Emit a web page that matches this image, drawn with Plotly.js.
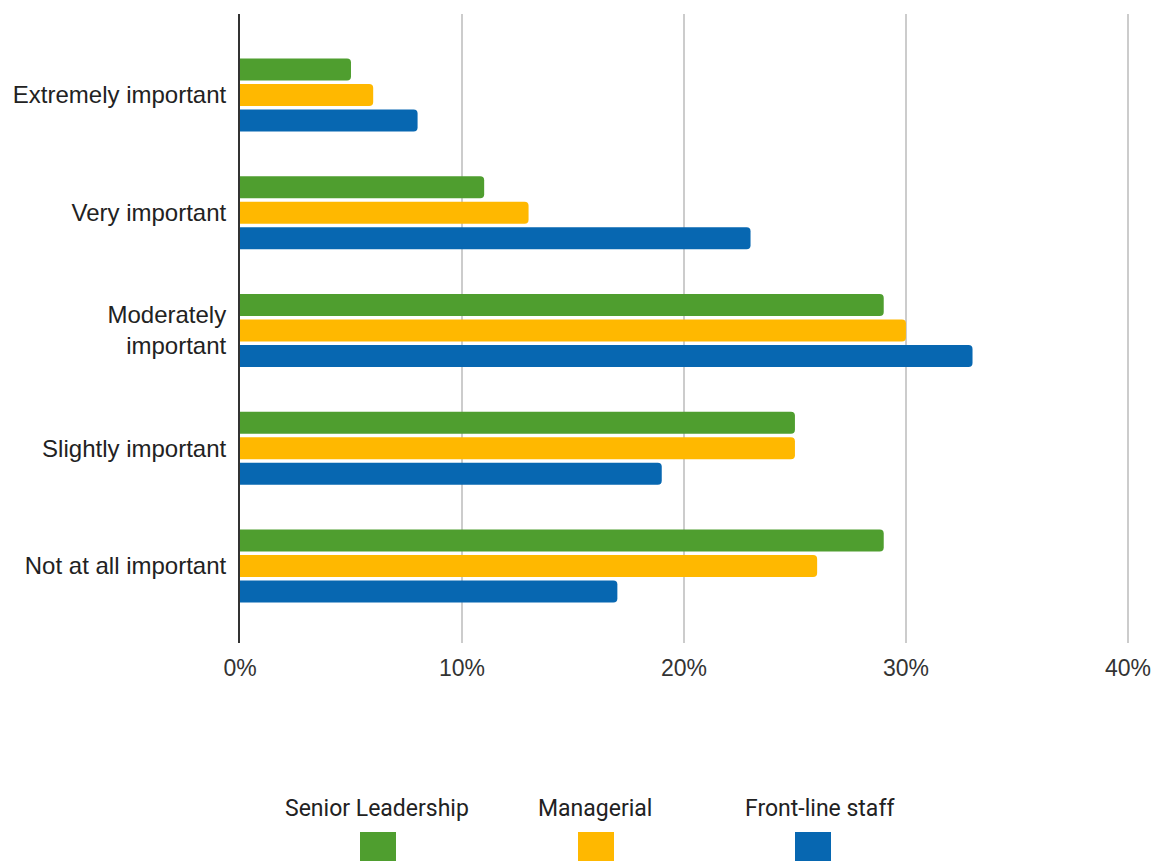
<!DOCTYPE html>
<html>
<head>
<meta charset="utf-8">
<script src="https://cdn.plot.ly/plotly-3.0.1.min.js"></script>
<style>
  html, body { margin: 0; padding: 0; background: #ffffff; }
  #chart { width: 1158px; height: 861px; }
</style>
</head>
<body>
<div id="chart"></div>
<script>
// Data
const categories = ['Extremely important', 'Very important', 'Moderately important', 'Slightly important', 'Not at all important'];
const tickLabels = ['Extremely important', 'Very important', 'Moderately<br>important', 'Slightly important', 'Not at all important'];
const seriesNames = ['Senior Leadership', 'Managerial', 'Front-line staff'];
const seniorLeadership = [5, 11, 29, 25, 29];
const managerial = [6, 13, 30, 25, 26];
const frontLineStaff = [8, 23, 33, 19, 17];
const xTickValues = [0, 10, 20, 30, 40];
const xTickLabels = ['0%', '10%', '20%', '30%', '40%'];

const colors = ['#4f9e2f', '#ffb800', '#0767b1'];
const seriesValues = [seniorLeadership, managerial, frontLineStaff];

const traces = seriesValues.map((vals, i) => ({
  type: 'bar',
  orientation: 'h',
  name: seriesNames[i],
  x: vals,
  y: categories,
  marker: { color: colors[i], cornerradius: 4, line: { width: 0 } },
  hoverinfo: 'x+y+name'
}));

// Custom legend: text above a colour square
const legendTextCentersPx = [377, 595, 820];
const legendSquareCentersPx = [378, 596, 813];
const legendTextY = 808;
const sqTop = 832, sqSize = 36;
const plotLeft = 240, plotRight = 1139, plotTop = 14, plotBottom = 643;
const pw = plotRight - plotLeft, ph = plotBottom - plotTop;
const toPx = px => (px - plotLeft) / pw;
const toPy = py => (plotBottom - py) / ph;

const annotations = seriesNames.map((n, i) => ({
  xref: 'paper', yref: 'paper',
  x: toPx(legendTextCentersPx[i]), y: toPy(legendTextY),
  xanchor: 'center', yanchor: 'middle',
  text: n, showarrow: false,
  font: { family: 'Roboto, DejaVu Sans, sans-serif', size: 23, color: '#222222' }
}));
const shapes = seriesNames.map((n, i) => ({
  type: 'rect', xref: 'paper', yref: 'paper',
  x0: toPx(legendSquareCentersPx[i] - sqSize / 2), x1: toPx(legendSquareCentersPx[i] + sqSize / 2),
  y0: toPy(sqTop), y1: toPy(sqTop + sqSize),
  fillcolor: colors[i], line: { width: 0 }
}));

const layout = {
  width: 1158, height: 861,
  margin: { l: plotLeft, r: 1158 - plotRight, t: plotTop, b: 861 - plotBottom, pad: 0 },
  paper_bgcolor: '#ffffff', plot_bgcolor: '#ffffff',
  barmode: 'group',
  bargap: 0.35,
  bargroupgap: 0.14,
  showlegend: false,
  font: { family: 'Liberation Sans, Arial, sans-serif', size: 22, color: '#222222' },
  xaxis: {
    range: [0, 40.5],
    tickvals: xTickValues,
    ticktext: xTickLabels,
    showgrid: true, gridcolor: '#cccccc', gridwidth: 2,
    zeroline: false, showline: false,
    ticks: '', ticklabelstandoff: 9,
    tickfont: { family: 'Liberation Sans, Arial, sans-serif', size: 23, color: '#333333' },
    fixedrange: true
  },
  yaxis: {
    type: 'category',
    range: [4.654, -0.688],
    tickvals: categories,
    ticktext: tickLabels,
    showgrid: false, zeroline: false,
    showline: true, linecolor: '#333333', linewidth: 2,
    ticks: '', ticklabelstandoff: 7,
    tickfont: { family: 'Liberation Sans, Arial, sans-serif', size: 24, color: '#222222' },
    fixedrange: true
  },
  annotations: annotations,
  shapes: shapes
};

Plotly.newPlot('chart', traces, layout, { displayModeBar: false, staticPlot: true });
</script>
</body>
</html>
